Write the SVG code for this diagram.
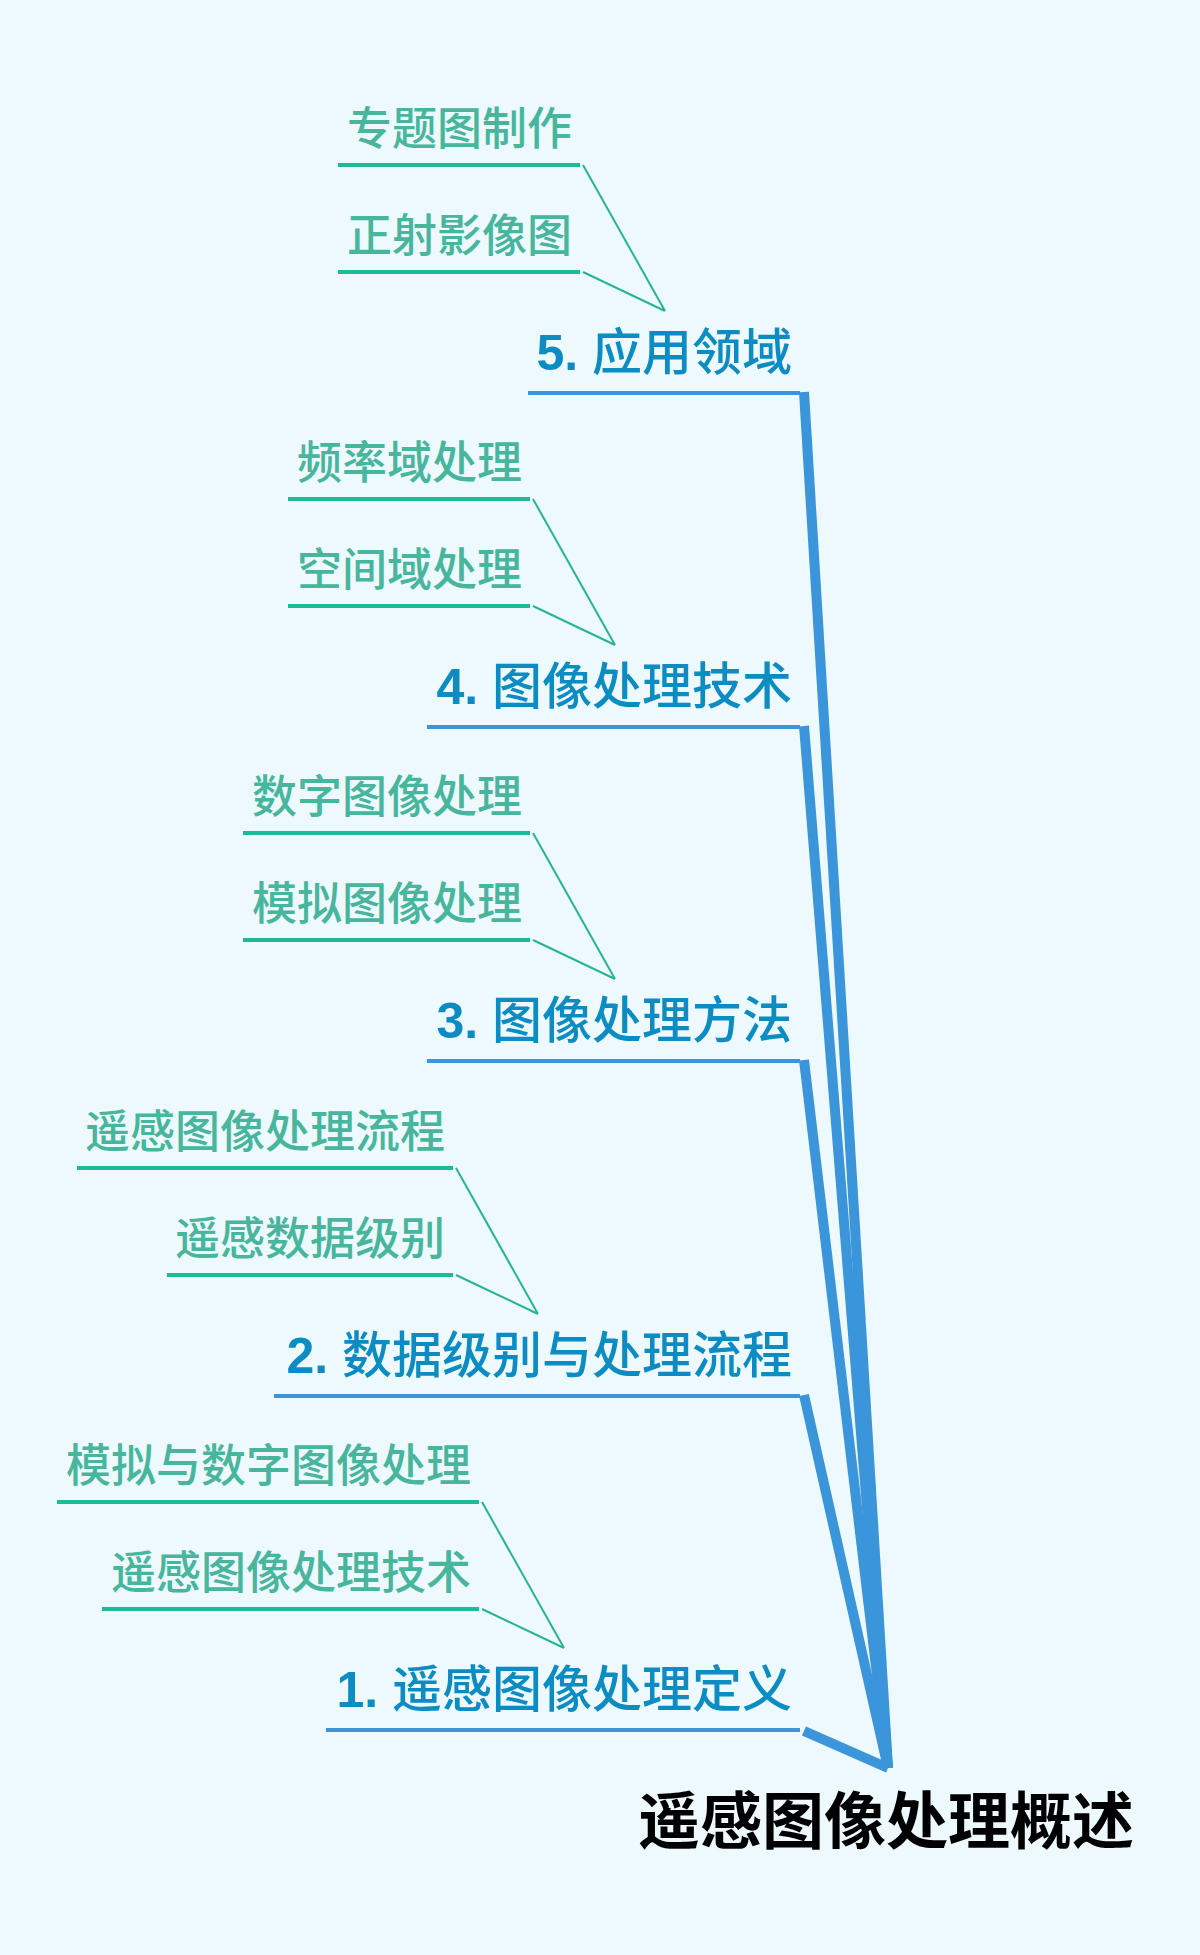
<svg xmlns="http://www.w3.org/2000/svg" width="1200" height="1955" viewBox="0 0 1200 1955">
<style>
text{font-family:"Liberation Sans","Noto Sans CJK SC",sans-serif}
.l1{font-size:50px;fill:#0c8cc2;text-anchor:end;font-weight:500}
.num{font-weight:700}
.l2{font-size:45px;fill:#47b69d;text-anchor:end;font-weight:500}
.root{font-size:62px;fill:#000;font-weight:700;text-anchor:middle}
.u1{stroke:#3b95da;stroke-width:4;fill:none}
.u2{stroke:#1eb997;stroke-width:4;fill:none}
.c1{stroke:#3b95da;stroke-width:10;fill:none;stroke-linecap:butt}
.c2{stroke:#27b496;stroke-width:2;fill:none}
</style>
<rect width="1200" height="1955" fill="#eef9fe"/>
<g id="connectors">
<path class="c1" d="M804 392 L888 1768"/>
<path class="c1" d="M804 726 L888 1768"/>
<path class="c1" d="M804 1060 L888 1768"/>
<path class="c1" d="M804 1395 L888 1768"/>
<path class="c1" d="M804 1731 L888 1768"/>
<path class="c2" d="M583 165 L665 311 M583 272 L665 311"/>
<path class="c2" d="M533 499 L615 645 M533 606 L615 645"/>
<path class="c2" d="M533 833 L615 979 M533 940 L615 979"/>
<path class="c2" d="M456 1168 L538 1314 M456 1275 L538 1314"/>
<path class="c2" d="M482 1502 L564 1648 M482 1609 L564 1648"/>
</g>
<g id="root"><text class="root" x="886" y="1844">遥感图像处理概述</text></g>
<g id="n5"><path class="u1" d="M528 393 H800"/><text class="l1" x="792" y="370"><tspan class="num">5.</tspan> 应用领域</text></g>
<g id="n4"><path class="u1" d="M427 727 H800"/><text class="l1" x="792" y="704"><tspan class="num">4.</tspan> 图像处理技术</text></g>
<g id="n3"><path class="u1" d="M427 1061 H800"/><text class="l1" x="792" y="1038"><tspan class="num">3.</tspan> 图像处理方法</text></g>
<g id="n2"><path class="u1" d="M274 1396 H800"/><text class="l1" x="792" y="1373"><tspan class="num">2.</tspan> 数据级别与处理流程</text></g>
<g id="n1"><path class="u1" d="M326 1730 H800"/><text class="l1" x="792" y="1707"><tspan class="num">1.</tspan> 遥感图像处理定义</text></g>
<g id="n5a"><path class="u2" d="M338 165 H580"/><text class="l2" x="572" y="145">专题图制作</text></g>
<g id="n5b"><path class="u2" d="M338 272 H580"/><text class="l2" x="572" y="252">正射影像图</text></g>
<g id="n4a"><path class="u2" d="M288 499 H530"/><text class="l2" x="522" y="479">频率域处理</text></g>
<g id="n4b"><path class="u2" d="M288 606 H530"/><text class="l2" x="522" y="586">空间域处理</text></g>
<g id="n3a"><path class="u2" d="M243 833 H530"/><text class="l2" x="522" y="813">数字图像处理</text></g>
<g id="n3b"><path class="u2" d="M243 940 H530"/><text class="l2" x="522" y="920">模拟图像处理</text></g>
<g id="n2a"><path class="u2" d="M77 1168 H453"/><text class="l2" x="445" y="1148">遥感图像处理流程</text></g>
<g id="n2b"><path class="u2" d="M167 1275 H453"/><text class="l2" x="445" y="1255">遥感数据级别</text></g>
<g id="n1a"><path class="u2" d="M57 1502 H479"/><text class="l2" x="471" y="1482">模拟与数字图像处理</text></g>
<g id="n1b"><path class="u2" d="M102 1609 H479"/><text class="l2" x="471" y="1589">遥感图像处理技术</text></g>
</svg>
